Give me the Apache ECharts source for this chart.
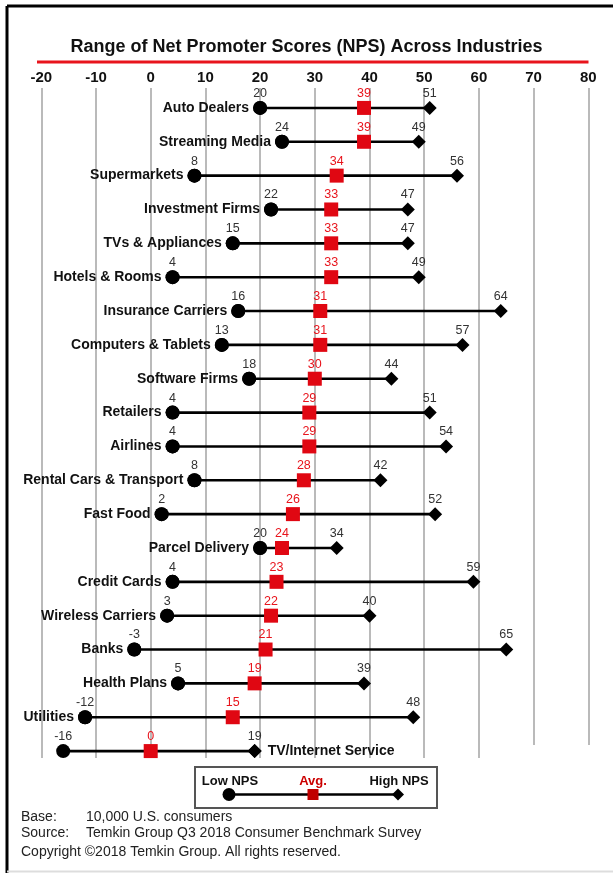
<!DOCTYPE html>
<html>
<head>
<meta charset="utf-8">
<script src="https://cdn.jsdelivr.net/npm/echarts@6/dist/echarts.min.js"></script>
<style>
  html, body { margin: 0; padding: 0; background: #fff; }
  #chart { width: 613px; height: 873px; }
</style>
</head>
<body>
<div id="chart"></div>
<script>
const industries = [
  'Auto Dealers', 'Streaming Media', 'Supermarkets', 'Investment Firms', 'TVs & Appliances',
  'Hotels & Rooms', 'Insurance Carriers', 'Computers & Tablets', 'Software Firms', 'Retailers',
  'Airlines', 'Rental Cars & Transport', 'Fast Food', 'Parcel Delivery', 'Credit Cards',
  'Wireless Carriers', 'Banks', 'Health Plans', 'Utilities', 'TV/Internet Service'
];
const lowNps = [20, 24, 8, 22, 15, 4, 16, 13, 18, 4, 4, 8, 2, 20, 4, 3, -3, 5, -12, -16];
const avgNps = [39, 39, 34, 33, 33, 33, 31, 31, 30, 29, 29, 28, 26, 24, 23, 22, 21, 19, 15, 0];
const highNps = [51, 49, 56, 47, 47, 49, 64, 57, 44, 51, 54, 42, 52, 34, 59, 40, 65, 39, 48, 19];
const xTicks = [-20, -10, 0, 10, 20, 30, 40, 50, 60, 70, 80];

const FONT = '"Liberation Sans", Arial, sans-serif';
const RED = '#e8141c';
const GRID_L = 41.3, GRID_R = 24.7;

const chart = echarts.init(document.getElementById('chart'));

const lastIdx = industries.length - 1;
const nameData = industries.map((name, i) => {
  if (i === lastIdx) {
    // this one sits to the right of its high marker
    return {
      value: [highNps[i], name],
      symbol: 'diamond',
      label: { position: 'right', distance: 6 }
    };
  }
  return [lowNps[i], name];
});

const valueLabel = (color) => ({
  show: true,
  position: 'top',
  distance: 1,
  fontFamily: FONT,
  fontSize: 12.5,
  color: color,
  formatter: (p) => p.value[0]
});

const option = {
  animation: false,
  backgroundColor: '#fff',
  title: {
    text: 'Range of Net Promoter Scores (NPS) Across Industries',
    left: 'center',
    top: 33,
    textStyle: { fontFamily: FONT, fontSize: 18, fontWeight: 'bold', color: '#111' }
  },
  grid: [
    { left: GRID_L, right: GRID_R, top: 91, bottom: 105 },
    { left: GRID_L, right: GRID_R, top: 88, bottom: 115 }
  ],
  xAxis: [
    { gridIndex: 0, type: 'value', min: xTicks[0], max: xTicks[xTicks.length - 1], show: false },
    {
      gridIndex: 1,
      type: 'value',
      position: 'top',
      min: xTicks[0],
      max: xTicks[xTicks.length - 1],
      interval: 10,
      axisLine: { show: false },
      axisTick: { show: false },
      axisLabel: { margin: 3, fontFamily: FONT, fontSize: 15, fontWeight: 'bold', color: '#111' },
      splitLine: { show: true, lineStyle: { color: '#a3a3a3', width: 1.5 } }
    }
  ],
  yAxis: [
    { gridIndex: 0, type: 'category', data: industries, inverse: true, show: false },
    { gridIndex: 1, type: 'value', min: 0, max: 1, show: false }
  ],
  series: [
    {
      type: 'scatter',
      xAxisIndex: 1,
      yAxisIndex: 1,
      data: [],
      silent: true
    },
    {
      type: 'custom',
      name: 'range',
      xAxisIndex: 0,
      yAxisIndex: 0,
      data: industries.map((name, i) => [lowNps[i], highNps[i], name]),
      renderItem: (params, api) => {
        const a = api.coord([api.value(0), api.value(2)]);
        const b = api.coord([api.value(1), api.value(2)]);
        return {
          type: 'line',
          shape: { x1: a[0], y1: a[1], x2: b[0], y2: b[1] },
          style: { stroke: '#000', lineWidth: 2.6 }
        };
      },
      z: 1
    },
    {
      type: 'scatter',
      name: 'Low NPS',
      data: industries.map((name, i) => [lowNps[i], name]),
      symbol: 'circle',
      symbolSize: 14,
      itemStyle: { color: '#000', opacity: 1 },
      label: valueLabel('#333'),
      z: 3
    },
    {
      type: 'scatter',
      name: 'names',
      data: nameData,
      symbol: 'circle',
      symbolSize: 14,
      itemStyle: { color: '#000', opacity: 1 },
      label: {
        show: true,
        position: 'left',
        distance: 4,
        fontFamily: FONT,
        fontSize: 14,
        fontWeight: 'bold',
        color: '#111',
        formatter: (p) => p.value[1]
      },
      z: 3
    },
    {
      type: 'scatter',
      name: 'High NPS',
      data: industries.map((name, i) => [highNps[i], name]),
      symbol: 'diamond',
      symbolSize: 14,
      itemStyle: { color: '#000', opacity: 1 },
      label: valueLabel('#333'),
      z: 3
    },
    {
      type: 'scatter',
      name: 'Avg.',
      data: industries.map((name, i) => [avgNps[i], name]),
      symbol: 'rect',
      symbolSize: 14,
      itemStyle: { color: '#e00712', opacity: 1 },
      label: valueLabel(RED),
      z: 4
    }
  ],
  graphic: [
    // frame
    { type: 'line', shape: { x1: 7, y1: 6, x2: 613, y2: 6 }, style: { stroke: '#000', lineWidth: 3 } },
    { type: 'line', shape: { x1: 7, y1: 6, x2: 7, y2: 873 }, style: { stroke: '#000', lineWidth: 3 } },
    { type: 'line', shape: { x1: 7, y1: 871.5, x2: 613, y2: 871.5 }, style: { stroke: '#ddd', lineWidth: 2 } },
    // red rule under the title
    { type: 'line', shape: { x1: 37, y1: 62, x2: 588.5, y2: 62 }, style: { stroke: RED, lineWidth: 3 } },
    // white patch in the lower right of the scan
    { type: 'rect', shape: { x: 488, y: 745, width: 125, height: 124 }, style: { fill: '#fff' }, z: 50 },
    // legend box
    {
      type: 'group',
      z: 60,
      children: [
        { type: 'rect', shape: { x: 195, y: 767, width: 242, height: 41 }, style: { fill: '#fff', stroke: '#555', lineWidth: 2 } },
        { type: 'line', shape: { x1: 229, y1: 794.5, x2: 398, y2: 794.5 }, style: { stroke: '#000', lineWidth: 2.5 } },
        { type: 'circle', shape: { cx: 229, cy: 794.5, r: 6.5 }, style: { fill: '#000' } },
        { type: 'rect', shape: { x: 307.5, y: 789, width: 11, height: 11 }, style: { fill: '#c00000' } },
        { type: 'polygon', shape: { points: [[398, 788.5], [404, 794.5], [398, 800.5], [392, 794.5]] }, style: { fill: '#000' } },
        { type: 'text', x: 230, y: 781, style: { text: 'Low NPS', font: 'bold 13px ' + FONT, fill: '#111', textAlign: 'center', textVerticalAlign: 'middle' } },
        { type: 'text', x: 313, y: 781, style: { text: 'Avg.', font: 'bold 13px ' + FONT, fill: '#cc0000', textAlign: 'center', textVerticalAlign: 'middle' } },
        { type: 'text', x: 399, y: 781, style: { text: 'High NPS', font: 'bold 13px ' + FONT, fill: '#111', textAlign: 'center', textVerticalAlign: 'middle' } }
      ]
    },
    // footnotes
    { type: 'text', x: 21, y: 817, style: { text: 'Base:', font: '14px ' + FONT, fill: '#222', textVerticalAlign: 'middle' } },
    { type: 'text', x: 86, y: 817, style: { text: '10,000 U.S. consumers', font: '14px ' + FONT, fill: '#222', textVerticalAlign: 'middle' } },
    { type: 'text', x: 21, y: 833, style: { text: 'Source:', font: '14px ' + FONT, fill: '#222', textVerticalAlign: 'middle' } },
    { type: 'text', x: 86, y: 833, style: { text: 'Temkin Group Q3 2018 Consumer Benchmark Survey', font: '14px ' + FONT, fill: '#222', textVerticalAlign: 'middle' } },
    { type: 'text', x: 21, y: 852, style: { text: 'Copyright \u00a92018 Temkin Group. All rights reserved.', font: '14px ' + FONT, fill: '#222', textVerticalAlign: 'middle' } }
  ]
};

chart.setOption(option);
window.addEventListener('resize', () => chart.resize());
</script>
</body>
</html>
